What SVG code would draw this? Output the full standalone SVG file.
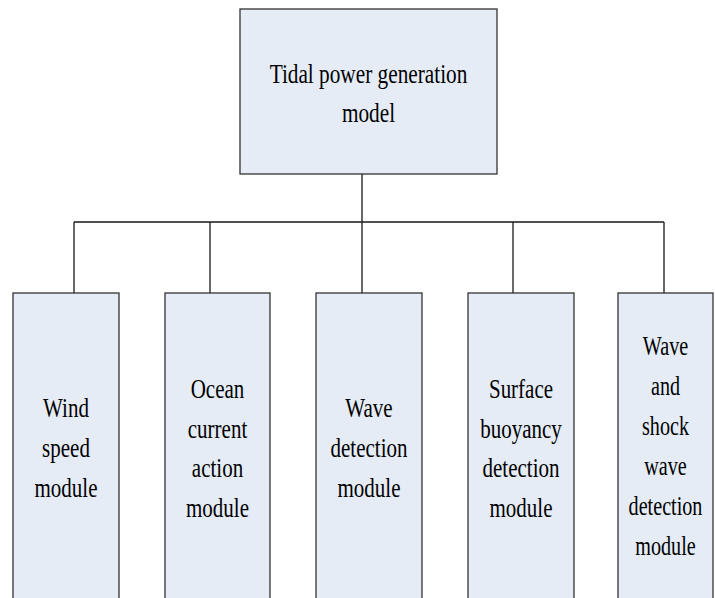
<svg xmlns="http://www.w3.org/2000/svg" width="715" height="598" viewBox="0 0 715 598">
<style>
.box{fill:#E5ECF6;stroke:#333;stroke-width:1.3}
.lbl{font-size:28px;fill:#000;text-anchor:middle}
.conn{stroke:#1a1a1a;stroke-width:1.3;fill:none}
</style>
<rect width="715" height="598" fill="#fff"/>
<g id="connectors">
<path class="conn" d="M362,174V222M74,222H664M74,222V293M210,222V293M362,222V293M513,222V293M664,222V293"/>
</g>
<g font-family="'Liberation Serif', 'DejaVu Serif', serif">
<g id="root">
<rect class="box" x="240" y="9" width="257" height="165"/>
<text class="lbl" transform="translate(368.5,83) scale(0.76,1)">Tidal power generation</text>
<text class="lbl" transform="translate(368.5,122) scale(0.76,1)">model</text>
</g>
<g id="wind">
<rect class="box" x="13" y="293" width="106" height="320"/>
<text class="lbl" transform="translate(66,417) scale(0.75,1)">Wind</text>
<text class="lbl" transform="translate(66,457) scale(0.75,1)">speed</text>
<text class="lbl" transform="translate(66,497) scale(0.75,1)">module</text>
</g>
<g id="ocean">
<rect class="box" x="165" y="293" width="105" height="320"/>
<text class="lbl" transform="translate(217.5,398) scale(0.75,1)">Ocean</text>
<text class="lbl" transform="translate(217.5,438) scale(0.75,1)">current</text>
<text class="lbl" transform="translate(217.5,477) scale(0.75,1)">action</text>
<text class="lbl" transform="translate(217.5,517) scale(0.75,1)">module</text>
</g>
<g id="wave">
<rect class="box" x="316" y="293" width="106" height="320"/>
<text class="lbl" transform="translate(369,417) scale(0.75,1)">Wave</text>
<text class="lbl" transform="translate(369,457) scale(0.75,1)">detection</text>
<text class="lbl" transform="translate(369,497) scale(0.75,1)">module</text>
</g>
<g id="buoyancy">
<rect class="box" x="468" y="293" width="106" height="320"/>
<text class="lbl" transform="translate(521,398) scale(0.75,1)">Surface</text>
<text class="lbl" transform="translate(521,438) scale(0.75,1)">buoyancy</text>
<text class="lbl" transform="translate(521,477) scale(0.75,1)">detection</text>
<text class="lbl" transform="translate(521,517) scale(0.75,1)">module</text>
</g>
<g id="shock">
<rect class="box" x="618" y="293" width="95" height="320"/>
<text class="lbl" transform="translate(665.5,355) scale(0.72,1)">Wave</text>
<text class="lbl" transform="translate(665.5,395) scale(0.72,1)">and</text>
<text class="lbl" transform="translate(665.5,435) scale(0.72,1)">shock</text>
<text class="lbl" transform="translate(665.5,475) scale(0.72,1)">wave</text>
<text class="lbl" transform="translate(665.5,515) scale(0.72,1)">detection</text>
<text class="lbl" transform="translate(665.5,555) scale(0.72,1)">module</text>
</g>
</g>
</svg>
